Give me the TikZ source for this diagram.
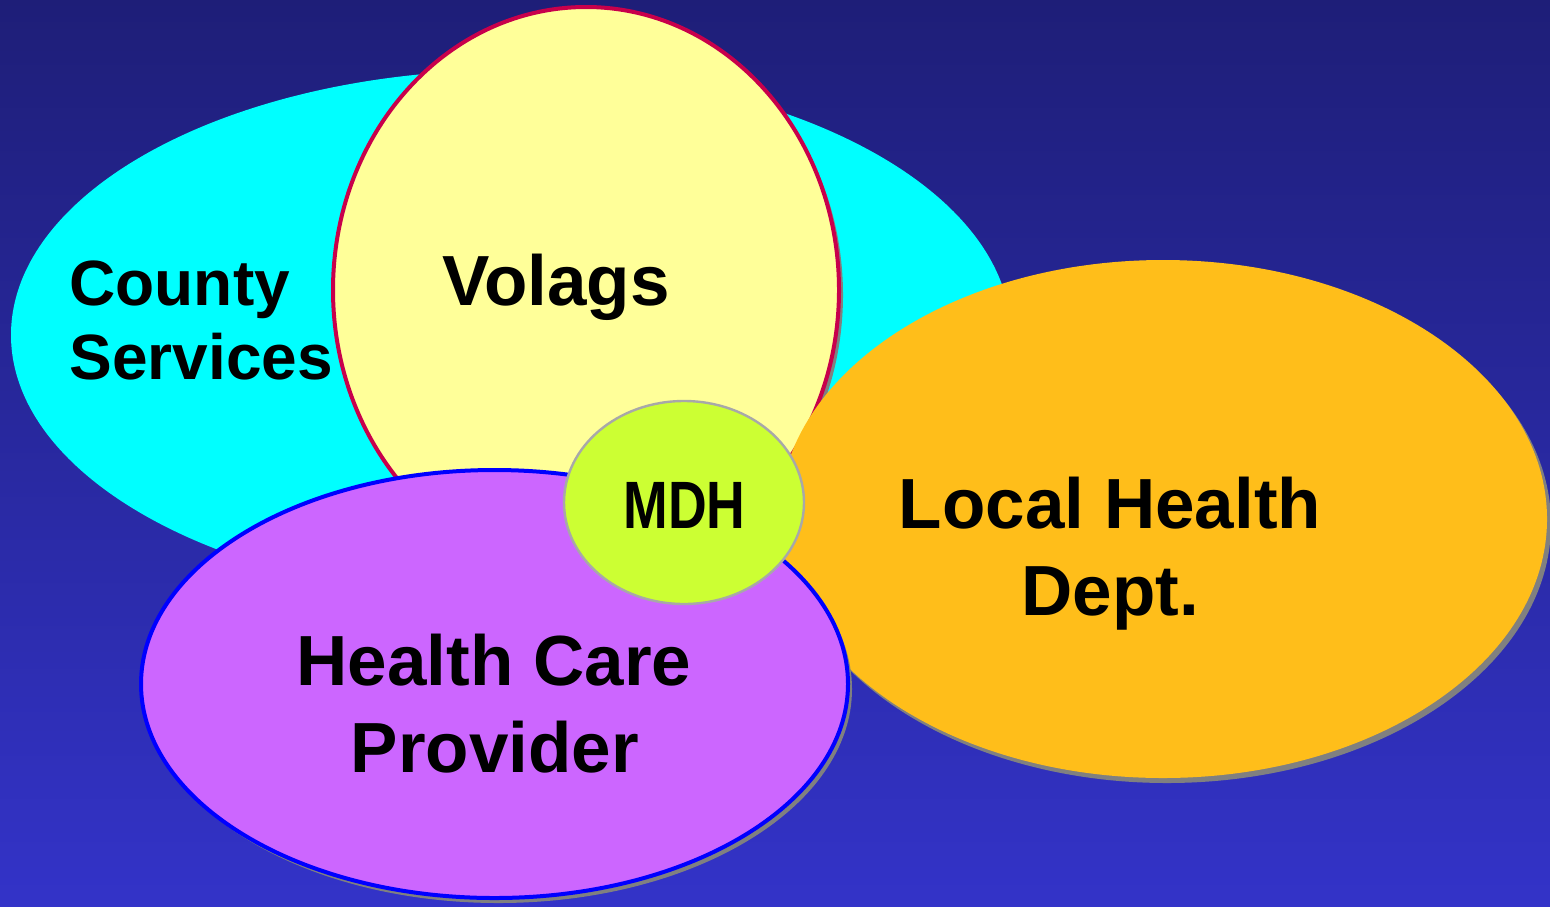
\documentclass[tikz,border=0pt]{standalone}
\usepackage{fontspec}
\setmainfont{Liberation Sans}
\newfontfamily\narrowsans[FakeStretch=0.8]{Liberation Sans}
\usetikzlibrary{shadows}

\definecolor{bgtop}{HTML}{1E1E78}
\definecolor{bgbot}{HTML}{3333C8}
\definecolor{countycyan}{HTML}{00FFFF}
\definecolor{volagyellow}{HTML}{FFFF99}
\definecolor{volagred}{HTML}{C8004B}
\definecolor{healthorange}{HTML}{FFBE1A}
\definecolor{careviolet}{HTML}{CC66FF}
\definecolor{mdhgreen}{HTML}{CCFF33}
\definecolor{mdhgray}{HTML}{A8A8A8}
\definecolor{shadowgray}{HTML}{808080}

\begin{document}
\begin{tikzpicture}[x=0.5pt, y=-0.5pt]
\tikzset{ inner sep=0pt, outer sep=0pt,
  shadowed/.style={drop shadow={shadow xshift=2pt, shadow yshift=-2.5pt, fill=shadowgray, opacity=1}},
  venntext/.style={font=\fontsize{35.5}{43.5}\selectfont\bfseries, anchor=base},
  countytext/.style={font=\fontsize{32}{37}\selectfont\bfseries, anchor=base west},
  mdhtext/.style={font=\fontsize{33.5}{40}\selectfont\narrowsans\bfseries, anchor=base},
}

\useasboundingbox (0,0) rectangle (1550,906);
%\draw [lightgray, dashed] (0,0) grid[step=100] (1550,906);

% fundo
\fill [top color=bgtop, bottom color=bgbot] (0,0) rectangle (1550,906);

% conjuntos
\fill [countycyan] (511,335) ellipse [x radius=500, y radius=265];
\draw [shadowed, fill=volagyellow, draw=volagred, line width=2pt] (586,290) ellipse [x radius=253, y radius=283];
\fill [shadowed, healthorange] (1163,519) ellipse [x radius=384, y radius=259];
\draw [shadowed, fill=careviolet, draw=blue, line width=2pt] (494.5,684) ellipse [x radius=353.5, y radius=214];
\draw [fill=mdhgreen, draw=mdhgray, line width=1.2pt] (684,502.5) ellipse [x radius=120, y radius=101.5];

% textos
\node [countytext] (county)   at (69.5,305) {County};
\node [countytext] (services) at (69.5,379) {Services};
\node [venntext]   (volags)   at (556,305)  {Volags};
\node [venntext]   (local)    at (1110,528) {Local Health};
\node [venntext]   (dept)     at (1110,615) {Dept.};
\node [venntext]   (hcare)    at (494,685)  {Health Care};
\node [venntext]   (provider) at (495,772)  {Provider};
\node [mdhtext]    (mdh)      at (684.5,528) {MDH};

\end{tikzpicture}
\end{document}
